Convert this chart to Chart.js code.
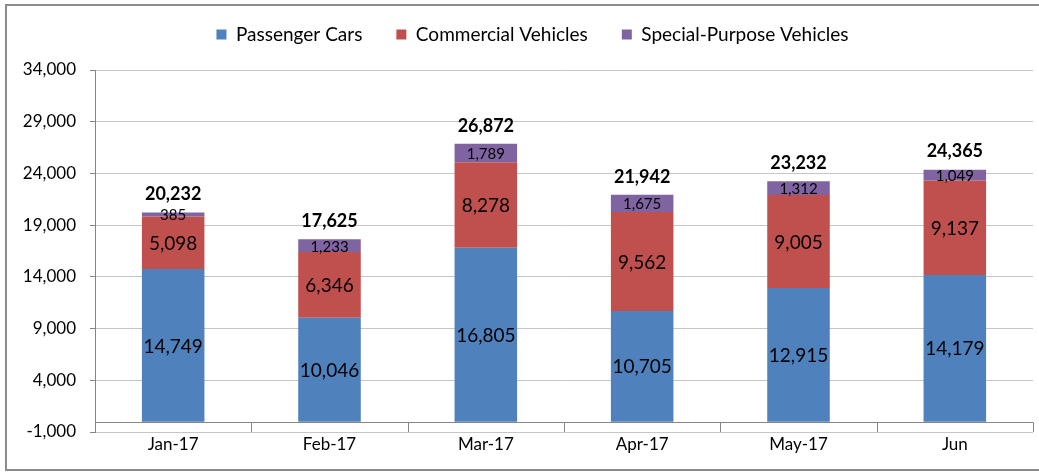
<!DOCTYPE html>
<html>
<head>
<meta charset="utf-8">
<script src="https://cdn.jsdelivr.net/npm/chart.js@4.4.0/dist/chart.umd.min.js"></script>
<style>
  html, body { margin: 0; padding: 0; background: #fff; }
  #wrap { position: relative; width: 1039px; height: 472px; overflow: hidden; }
  #frame { position: absolute; left: 5px; top: 4px; width: 1040px; height: 463px; border: 2px solid #8c8c8c; pointer-events: none; }
</style>
</head>
<body>
<div id="wrap">
  <canvas id="salesChart" width="1039" height="472"></canvas>
  <div id="frame"></div>
</div>
<script>
// Data
const months = ["Jan-17", "Feb-17", "Mar-17", "Apr-17", "May-17", "Jun"];
const passengerCars = [14749, 10046, 16805, 10705, 12915, 14179];
const commercialVehicles = [5098, 6346, 8278, 9562, 9005, 9137];
const specialPurpose = [385, 1233, 1789, 1675, 1312, 1049];
const totals = [20232, 17625, 26872, 21942, 23232, 24365];
const yTicks = [-1000, 4000, 9000, 14000, 19000, 24000, 29000, 34000];

const FONT = "Lato, 'Liberation Sans', sans-serif";
const fmt = (v) => v.toLocaleString("en-US");

// Category axis at zero, value labels and totals
const labelPlugin = {
  id: "barLabels",
  afterLayout(chart) {
    // nudge the legend row up and a bit to the right
    const lg = chart.legend;
    lg.top -= 16;
    lg.bottom -= 16;
    lg.left += 16;
    lg.right += 16;
  },
  beforeDatasetsDraw(chart) {
    const { ctx, chartArea, scales } = chart;
    const y0 = Math.round(scales.y.getPixelForValue(0)) + 0.5;
    const step = (chartArea.right - chartArea.left) / months.length;
    ctx.save();
    ctx.strokeStyle = "#868686";
    ctx.lineWidth = 1;
    ctx.beginPath();
    ctx.moveTo(chartArea.left, y0);
    ctx.lineTo(chartArea.right, y0);
    for (let k = 0; k <= months.length; k++) {
      const x = Math.round(chartArea.left + k * step) + 0.5;
      ctx.moveTo(x, y0);
      ctx.lineTo(x, chartArea.bottom);
    }
    ctx.stroke();
    ctx.restore();
  },
  afterDatasetsDraw(chart) {
    const ctx = chart.ctx;
    ctx.save();
    ctx.textAlign = "center";
    ctx.textBaseline = "middle";
    ctx.fillStyle = "#000";
    chart.data.datasets.forEach((ds, i) => {
      const meta = chart.getDatasetMeta(i);
      ctx.font = (i === 2 ? "15px " : "19px ") + FONT;
      meta.data.forEach((bar, j) => {
        const { x, y, base } = bar.getProps(["x", "y", "base"], true);
        ctx.fillText(fmt(ds.data[j]), x, (y + base) / 2 + 1);
      });
    });
    const top = chart.getDatasetMeta(2);
    ctx.font = "bold 18px " + FONT;
    top.data.forEach((bar, j) => {
      ctx.fillText(fmt(totals[j]), bar.x, bar.y - 18);
    });
    ctx.restore();
  },
};

const ctx = document.getElementById("salesChart").getContext("2d");
const chart = new Chart(ctx, {
  type: "bar",
  data: {
    labels: months,
    datasets: [
      { label: "Passenger Cars", data: passengerCars, backgroundColor: "#4f81bd" },
      { label: "Commercial Vehicles", data: commercialVehicles, backgroundColor: "#c0504d" },
      { label: "Special-Purpose Vehicles", data: specialPurpose, backgroundColor: "#8064a2" },
    ],
  },
  options: {
    responsive: false,
    animation: false,
    categoryPercentage: 1,
    barPercentage: 0.4,
    layout: { padding: { left: 0, right: 6, top: 7, bottom: 0 } },
    plugins: {
      tooltip: { enabled: false },
      legend: {
        position: "top",
        labels: {
          boxWidth: 10,
          boxHeight: 10,
          padding: 34,
          color: "#000",
          font: { family: FONT, size: 19 },
        },
      },
    },
    scales: {
      x: {
        stacked: true,
        grid: { display: false, drawTicks: false },
        border: { display: false },
        ticks: { color: "#000", padding: 2, font: { family: FONT, size: 17 } },
        afterFit(scale) { scale.height = 40; },
      },
      y: {
        stacked: true,
        min: -1000,
        max: 34000,
        afterBuildTicks(scale) { scale.ticks = yTicks.map((v) => ({ value: v })); },
        grid: { color: "#c6c6c6", tickColor: "#868686", tickLength: 5 },
        border: { color: "#868686" },
        ticks: {
          color: "#000",
          padding: 14,
          font: { family: FONT, size: 17 },
          callback: (v) => fmt(v),
        },
        afterFit(scale) { scale.width = 95; },
      },
    },
  },
  plugins: [labelPlugin],
});
</script>
</body>
</html>
